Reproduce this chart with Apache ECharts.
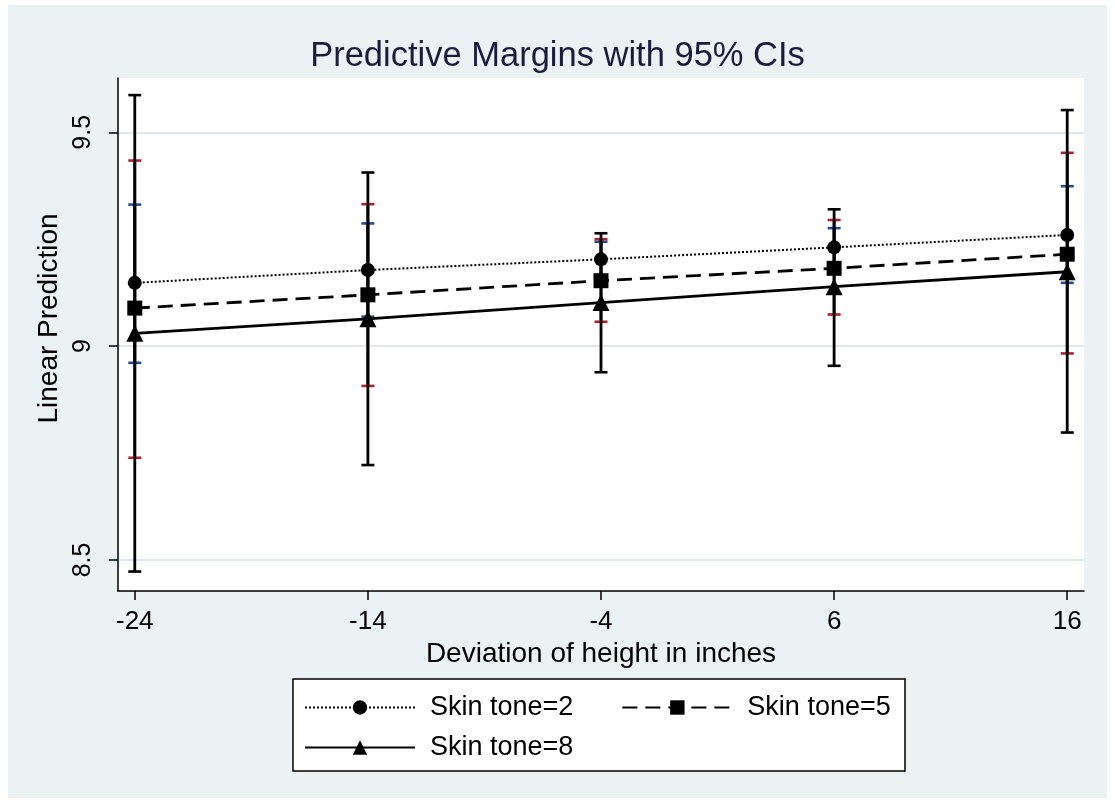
<!DOCTYPE html>
<html>
<head>
<meta charset="utf-8">
<script src="https://cdn.jsdelivr.net/npm/echarts@6/dist/echarts.min.js"></script>
<style>
  html, body { margin: 0; padding: 0; background: #ffffff; }
  #chart { width: 1115px; height: 803px; }
</style>
</head>
<body>
<div id="chart"></div>
<script>
// ---- data ----
var xValues = [-24, -14, -4, 6, 16];
var xTicks = [-24, -14, -4, 6, 16];
var yTicks = [8.5, 9, 9.5];

var seriesNames = ['Skin tone=2', 'Skin tone=5', 'Skin tone=8'];

var s2Mean = [9.148, 9.178, 9.203, 9.231, 9.260];
var s2Lo   = [8.961, 9.069, 9.162, 9.186, 9.148];
var s2Hi   = [9.331, 9.287, 9.244, 9.276, 9.374];

var s5Mean = [9.089, 9.120, 9.153, 9.182, 9.215];
var s5Lo   = [8.739, 8.907, 9.057, 9.074, 8.983];
var s5Hi   = [9.434, 9.332, 9.250, 9.295, 9.452];

var s8Mean = [9.030, 9.064, 9.102, 9.139, 9.174];
var s8Lo   = [8.473, 8.722, 8.939, 8.954, 8.798];
var s8Hi   = [9.587, 9.406, 9.264, 9.320, 9.552];

// ---- build ----
function pts(mean) { return xValues.map(function (x, i) { return [x, mean[i]]; }); }
function ci(lo, hi) { return xValues.map(function (x, i) { return [x, lo[i], hi[i]]; }); }

var FONT = "'Liberation Sans', Arial, sans-serif";

function ciSeries(name, lo, hi, capColor, z) {
  return {
    name: name,
    type: 'custom',
    z: z,
    silent: true,
    encode: { x: 0, y: [1, 2] },
    data: ci(lo, hi),
    renderItem: function (params, api) {
      var x = api.value(0);
      var pLo = api.coord([x, api.value(1)]);
      var pHi = api.coord([x, api.value(2)]);
      var hw = 6.5;
      return {
        type: 'group',
        children: [
          { type: 'line', shape: { x1: pLo[0], y1: pLo[1], x2: pHi[0], y2: pHi[1] },
            style: { stroke: '#000', lineWidth: 2.8 } },
          { type: 'line', z2: 5, shape: { x1: pLo[0] - hw, y1: pLo[1], x2: pLo[0] + hw, y2: pLo[1] },
            style: { stroke: capColor, lineWidth: 2.6 } },
          { type: 'line', z2: 5, shape: { x1: pHi[0] - hw, y1: pHi[1], x2: pHi[0] + hw, y2: pHi[1] },
            style: { stroke: capColor, lineWidth: 2.6 } }
        ]
      };
    }
  };
}

function lineSeries(name, mean, symbol, size, dash, width) {
  return {
    name: name,
    type: 'line',
    z: 10,
    data: pts(mean),
    symbol: symbol,
    symbolSize: size,
    showAllSymbol: true,
    itemStyle: { color: '#000' },
    lineStyle: { color: '#000', width: width, type: dash },
    emphasis: { disabled: true },
    animation: false
  };
}

var chart = echarts.init(document.getElementById('chart'), null, { renderer: 'canvas' });

var option = {
  animation: false,
  backgroundColor: '#ffffff',
  graphic: [
    { type: 'rect', z: -100, silent: true,
      shape: { x: 8, y: 5, width: 1099, height: 793 },
      style: { fill: '#eaf2f3' } },
    { type: 'rect', z: 1, silent: true,
      shape: { x: 293, y: 679, width: 612, height: 92 },
      style: { fill: '#ffffff', stroke: '#000000', lineWidth: 1.5 } }
  ],
  title: {
    text: 'Predictive Margins with 95% CIs',
    left: 'center',
    top: 34,
    textStyle: { fontFamily: FONT, fontSize: 34.5, fontWeight: 'normal', color: '#1a1c3e' }
  },
  legend: [
    {
      data: [seriesNames[0], seriesNames[1]],
      left: 299, top: 689, z: 20,
      itemWidth: 110, itemHeight: 18, itemGap: 48,
      selectedMode: false,
      textStyle: { fontFamily: FONT, fontSize: 27, color: '#000', padding: [0, 0, 0, 10] }
    },
    {
      data: [seriesNames[2]],
      left: 299, top: 729, z: 20,
      itemWidth: 110, itemHeight: 18,
      selectedMode: false,
      textStyle: { fontFamily: FONT, fontSize: 27, color: '#000', padding: [0, 0, 0, 10] }
    }
  ],
  grid: {
    left: 118, right: 31, top: 78, bottom: 212,
    show: true, backgroundColor: '#ffffff', borderWidth: 0,
    containLabel: false
  },
  xAxis: {
    type: 'value',
    min: -24.72, max: 16.72,
    name: 'Deviation of height in inches',
    nameLocation: 'middle',
    nameGap: 43,
    nameTextStyle: { fontFamily: FONT, fontSize: 28, color: '#000' },
    axisLine: { show: true, onZero: false, lineStyle: { color: '#000', width: 1.5 } },
    axisTick: { show: true, length: 9, customValues: xTicks, lineStyle: { color: '#000', width: 1.5 } },
    axisLabel: { customValues: xTicks, fontFamily: FONT, fontSize: 26, color: '#000', margin: 18 },
    splitLine: { show: false }
  },
  yAxis: {
    type: 'value',
    min: 8.4275, max: 9.627,
    name: 'Linear Prediction',
    nameLocation: 'middle',
    nameGap: 49,
    nameRotate: 90,
    nameTextStyle: { fontFamily: FONT, fontSize: 28, color: '#000', padding: [0, 0, 0, 32] },
    axisLine: { show: true, onZero: false, lineStyle: { color: '#000', width: 1.5 } },
    axisTick: { show: true, length: 9, customValues: yTicks, lineStyle: { color: '#000', width: 1.5 } },
    axisLabel: { customValues: yTicks, rotate: 90, fontFamily: FONT, fontSize: 25, color: '#000', margin: 22,
                 formatter: function (v) { return String(v); } },
    splitLine: { show: true, lineStyle: { color: '#dde9ec', width: 2 } }
  },
  series: [
    ciSeries('ci2', s2Lo, s2Hi, '#1f4e96', 2),
    ciSeries('ci5', s5Lo, s5Hi, '#b0202c', 3),
    ciSeries('ci8', s8Lo, s8Hi, '#000000', 4),
    lineSeries(seriesNames[0], s2Mean, 'circle', 14, [2, 2], 2),
    lineSeries(seriesNames[1], s5Mean, 'rect', 15, [15, 8], 2.8),
    lineSeries(seriesNames[2], s8Mean, 'triangle', 17, 'solid', 2.8)
  ]
};

chart.setOption(option);
</script>
</body>
</html>
